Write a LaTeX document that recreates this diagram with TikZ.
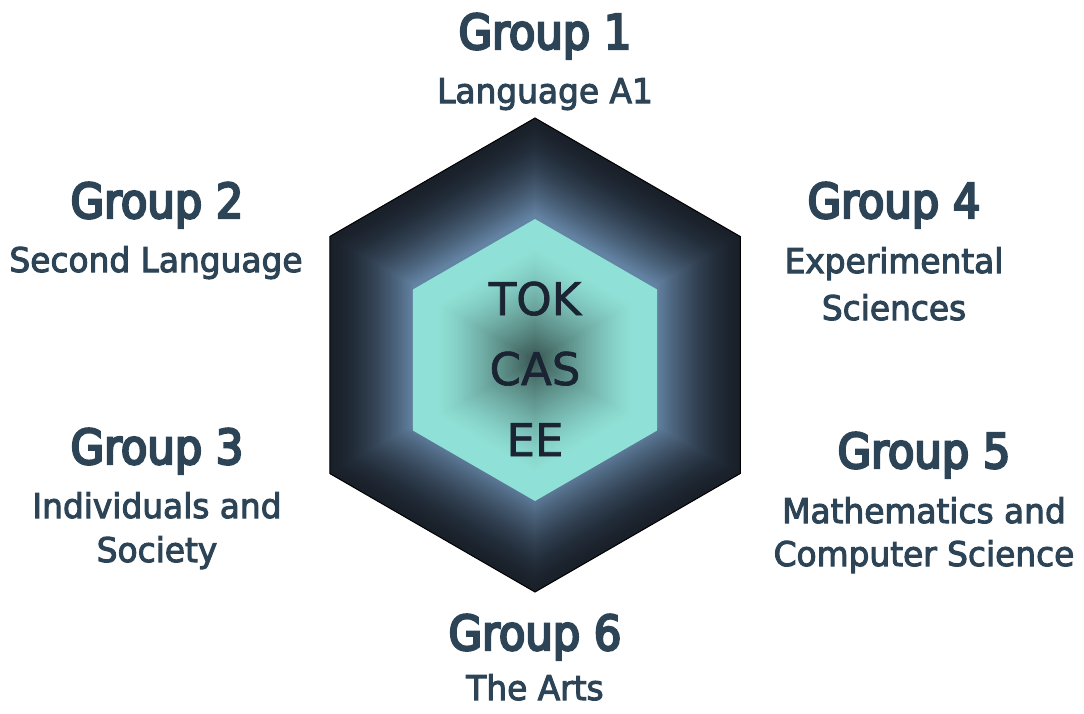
\documentclass[tikz,border=0pt]{standalone}
\usepackage{fontspec}
\usepackage{tikz}
\setmainfont{DejaVu Sans}
\newfontfamily\headfont[FakeStretch=0.9,FakeBold=5]{DejaVu Sans}
\newfontfamily\subfont[FakeStretch=0.965,FakeBold=3]{DejaVu Sans}
\newfontfamily\corefont[FakeBold=1.5]{DejaVu Sans}
\definecolor{hexdark}{HTML}{19202A}
\definecolor{hexlight}{HTML}{6383A3}
\definecolor{coreedge}{HTML}{8FE0D6}
\definecolor{corecentre}{HTML}{3B5854}
\definecolor{labeltext}{HTML}{2D4457}
\definecolor{coretext}{HTML}{1A2433}

\begin{document}
\begin{tikzpicture}[x=1pt,y=-1pt]
        \tikzstyle{every node}+=[inner sep=0pt]
        \tikzstyle{grouphead}=[anchor=base, text=labeltext, font=\headfont\fontsize{48}{48}\selectfont]
        \tikzstyle{groupsub}=[anchor=base, text=labeltext, font=\subfont\fontsize{34}{34}\selectfont]
        \tikzstyle{coreword}=[anchor=base, text=coretext, font=\corefont\fontsize{45}{45}\selectfont]
        \useasboundingbox (0,0) rectangle (1084,713);
        % outer hexagon, shaded inwards
        \foreach \i in {0,...,48}{
            \pgfmathsetmacro\r{237-2*\i}
            \pgfmathsetmacro\p{100*(\i/48)^1.6}
            \fill [hexlight!\p!hexdark] (535,355) +(90:\r) -- +(150:\r) -- +(210:\r)
                -- +(270:\r) -- +(330:\r) -- +(30:\r) -- cycle;
        }
        \draw [black, line width=1pt] (535,355) +(90:237) -- +(150:237) -- +(210:237)
            -- +(270:237) -- +(330:237) -- +(30:237) -- cycle;
        % inner hexagon, dark in the middle
        \foreach \i in {0,...,46}{
            \pgfmathsetmacro\r{141-3*\i}
            \pgfmathsetmacro\p{100*max(0,(\i/46-0.2)/0.8)^1.3}
            \fill [corecentre!\p!coreedge] (535,360) +(90:\r) -- +(150:\r) -- +(210:\r)
                -- +(270:\r) -- +(330:\r) -- +(30:\r) -- cycle;
        }
        \node [coreword] (tok) at (535,315) {TOK};
        \node [coreword] (cas) at (535,385) {CAS};
        \node [coreword] (ee) at (535,456) {EE};
        % group labels
        \node [grouphead] (g1) at (545,49) {Group 1};
        \node [groupsub] (g1a) at (545,103) {Language A1};
        \node [grouphead] (g2) at (157,218) {Group 2};
        \node [groupsub] (g2a) at (156,272) {Second Language};
        \node [grouphead] (g3) at (157,464) {Group 3};
        \node [groupsub] (g3a) at (157,518) {Individuals and};
        \node [groupsub] (g3b) at (157,562) {Society};
        \node [grouphead] (g4) at (894,218) {Group 4};
        \node [groupsub] (g4a) at (894,273) {Experimental};
        \node [groupsub] (g4b) at (894,320) {Sciences};
        \node [grouphead] (g5) at (924,468) {Group 5};
        \node [groupsub] (g5a) at (924,523) {Mathematics and};
        \node [groupsub] (g5b) at (924,566) {Computer Science};
        \node [grouphead] (g6) at (535,650) {Group 6};
        \node [groupsub] (g6a) at (535,700) {The Arts};
    \end{tikzpicture}
\end{document}
